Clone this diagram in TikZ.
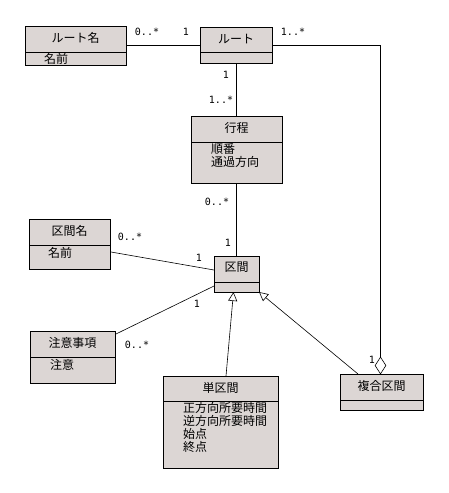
\documentclass[tikz,border=0pt]{standalone}
\usepackage{fontspec}
\setmainfont{Noto Sans CJK JP}
\newfontfamily\multfont{DejaVu Sans Mono}
\usetikzlibrary{arrows.meta,shapes.geometric}
\definecolor{boxfill}{RGB}{220,214,212}
\tikzset{
  cls/.style={draw=black,fill=boxfill,line width=0.9pt},
  sep/.style={draw=black,line width=0.9pt},
  conn/.style={draw=black,line width=0.6pt},
  ttl/.style={font=\fontsize{12}{13}\selectfont,inner sep=0pt},
  attr/.style={font=\fontsize{12}{13}\selectfont,inner sep=0pt,anchor=west},
  mult/.style={font=\multfont\fontsize{10}{11}\selectfont,inner sep=0pt},
  gen/.style={conn,-{Triangle[open,length=9pt,width=9pt]}},
}
\begin{document}
\begin{tikzpicture}[x=1pt,y=-1pt]
\useasboundingbox (0,0) rectangle (448,493);
% class boxes
\path[cls] (25,26) rectangle (126,65); \draw[sep] (25,52)--(126,52);
\node[ttl] (routename) at (75.5,38) {ルート名};
\node[attr] (routenameA) at (44,58.5) {名前};

\path[cls] (200,27) rectangle (272,63); \draw[sep] (200,52)--(272,52);
\node[ttl] (route) at (236,39) {ルート};

\path[cls] (191,116) rectangle (282,183); \draw[sep] (191,142)--(282,142);
\node[ttl] (trip) at (236.5,127.5) {行程};
\node[attr] (tripA1) at (211,149) {順番};
\node[attr] (tripA2) at (211,162) {通過方向};

\path[cls] (214,256) rectangle (259,292); \draw[sep] (214,282)--(259,282);
\node[ttl] (sec) at (236.5,267.5) {区間};

\path[cls] (29,219) rectangle (110,269); \draw[sep] (29,245)--(110,245);
\node[ttl] (secname) at (69.5,230.5) {区間名};
\node[attr] (secnameA) at (48,252.5) {名前};

\path[cls] (30,331) rectangle (115,383); \draw[sep] (30,357)--(115,357);
\node[ttl] (note) at (72.5,342.5) {注意事項};
\node[attr] (noteA) at (50,364.5) {注意};

\path[cls] (163,376) rectangle (278,468); \draw[sep] (163,401)--(278,401);
\node[ttl] (single) at (220.5,387.5) {単区間};
\node[attr] (singleA1) at (183,407.5) {正方向所要時間};
\node[attr] (singleA2) at (183,420.5) {逆方向所要時間};
\node[attr] (singleA3) at (183,433.5) {始点};
\node[attr] (singleA4) at (183,446.5) {終点};

\path[cls] (340,374) rectangle (423,410); \draw[sep] (340,400)--(423,400);
\node[ttl] (comp) at (381.5,385.5) {複合区間};

% connectors
\coordinate (a1) at (126,45); \coordinate (a2) at (200,45);
\draw[conn] (a1)--(a2);
\node[mult] (m1) at (147,32) {0..*};
\node[mult] (m2) at (186,32) {1};

\coordinate (b1) at (236,63); \coordinate (b2) at (236,116);
\draw[conn] (b1)--(b2);
\node[mult] (m3) at (226,75) {1};
\node[mult] (m4) at (221,100) {1..*};

\coordinate (c1) at (236.5,183); \coordinate (c2) at (236.5,256);
\draw[conn] (c1)--(c2);
\node[mult] (m5) at (217,202) {0..*};
\node[mult] (m6) at (228,243) {1};

\coordinate (d1) at (111,252); \coordinate (d2) at (214,270);
\draw[conn] (d1)--(d2);
\node[mult] (m7) at (130,237) {0..*};
\node[mult] (m8) at (199,258) {1};

\coordinate (e1) at (116,334); \coordinate (e2) at (214,286);
\draw[conn] (e1)--(e2);
\node[mult] (m9) at (197,304) {1};
\node[mult] (m10) at (137,345) {0..*};

\coordinate (f1) at (226,376); \coordinate (f2) at (233.5,292);
\draw[gen] (f1)--(f2);

\coordinate (g1) at (358,374); \coordinate (g2) at (259,292);
\draw[gen] (g1)--(g2);

% aggregation
\node[diamond,draw=black,fill=white,line width=0.6pt,minimum width=11pt,minimum height=17pt,inner sep=0pt] (dia) at (380.5,365.5) {};
\coordinate (h1) at (272,45); \coordinate (h2) at (380.5,45);
\draw[conn] (h1)--(h2)--(dia.north);
\node[mult] (m11) at (293,32) {1..*};
\node[mult] (m12) at (372,360) {1};
\end{tikzpicture}
\end{document}
